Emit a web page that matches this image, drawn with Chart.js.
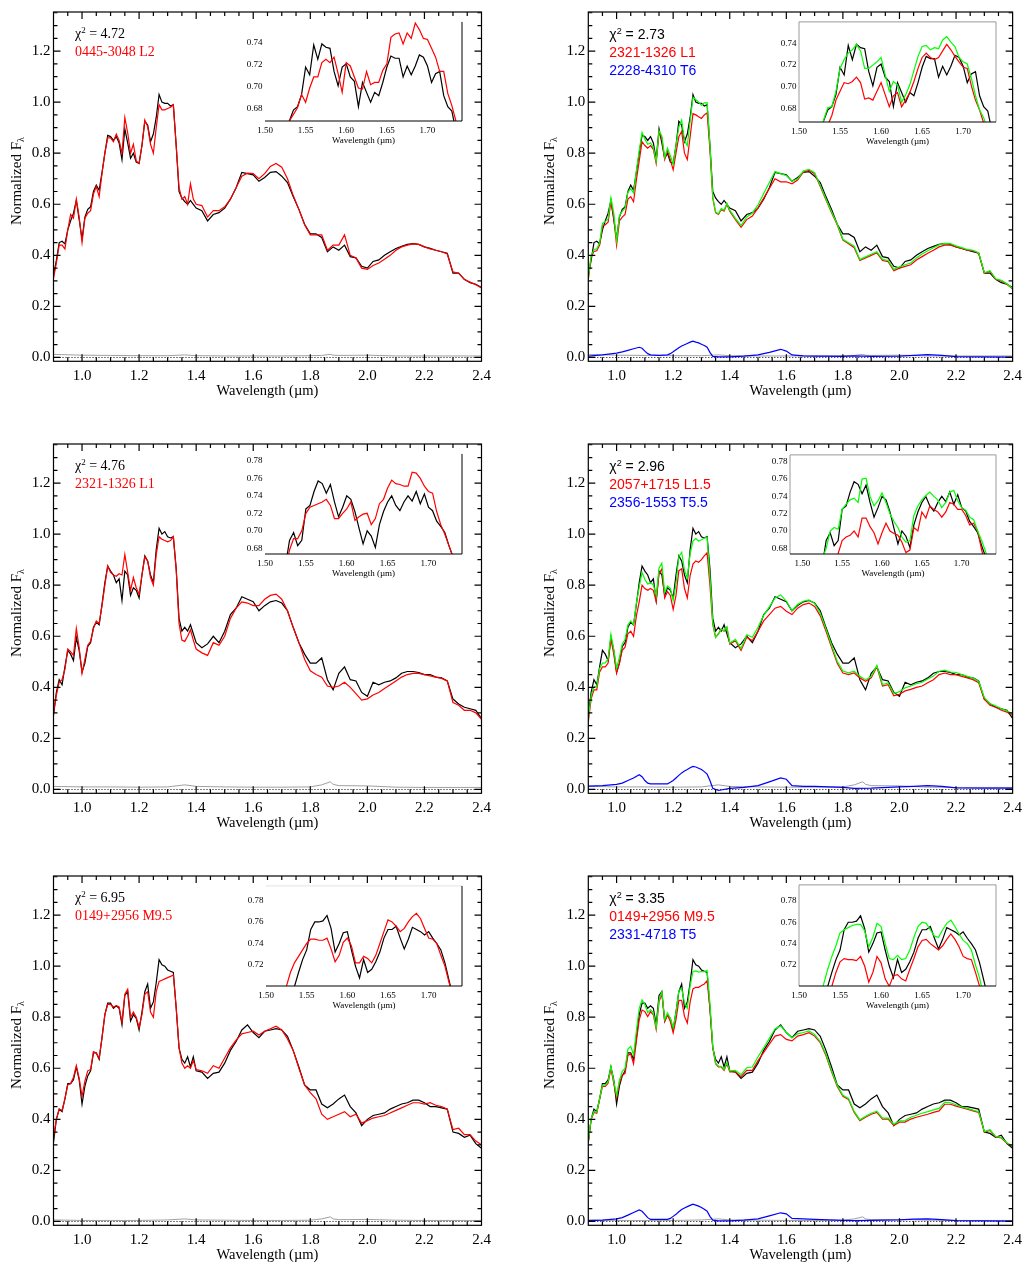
<!DOCTYPE html>
<html>
<head>
<meta charset="utf-8">
<script src="https://cdn.jsdelivr.net/npm/chart.js@4.4.1/dist/chart.umd.min.js"></script>
<style>
  body { margin: 0; background: #fff; width: 1028px; height: 1266px; position: relative; overflow: hidden; }
  canvas { position: absolute; }
  .note { position: absolute; white-space: nowrap; font-size: 14px; line-height: 14px; }
  .serif { font-family: "Liberation Serif", serif; }
  .sans { font-family: "Liberation Sans", sans-serif; }
  .note sup { font-size: 9px; vertical-align: 5px; line-height: 0; }
  .ytitle { position: absolute; width: 200px; height: 20px; line-height: 20px; text-align: center;
            transform: rotate(-90deg); font: 15px "Liberation Serif", serif; white-space: nowrap; }
  .ytitle sub { font-size: 10px; vertical-align: -3px; line-height: 0; }
</style>
</head>
<body>
<script>
// wavelength grid of the main panels (micron)
const wave = [
  0.90,0.91,0.92,0.93,0.94,0.95,0.96,0.97,0.98,0.99,
  1.00,1.01,1.02,1.03,1.04,1.05,1.06,1.07,1.08,1.09,
  1.10,1.11,1.12,1.13,1.14,1.15,1.16,1.17,1.18,1.19,
  1.20,1.21,1.22,1.23,1.24,1.25,1.26,1.27,1.28,1.29,
  1.30,1.31,1.32,1.33,1.34,1.35,1.36,1.37,1.38,1.39,
  1.40,1.42,1.44,1.46,1.48,1.50,1.52,1.54,1.56,1.58,
  1.60,1.62,1.64,1.66,1.68,1.70,1.72,1.74,1.76,1.78,
  1.80,1.82,1.84,1.86,1.88,1.90,1.92,1.94,1.96,1.98,
  2.00,2.02,2.04,2.06,2.08,2.10,2.12,2.14,2.16,2.18,
  2.20,2.22,2.24,2.26,2.28,2.30,2.32,2.34,2.36,2.38,
  2.40];

// row 1: observed spectrum, single fit (a), binary fit primary (b), composite (b)
const black1 = [
  0.32,0.38,0.45,0.455,0.445,0.50,0.535,0.565,0.615,0.54,
  0.465,0.55,0.58,0.59,0.65,0.675,0.655,0.725,0.80,0.87,
  0.865,0.85,0.865,0.84,0.775,0.895,0.84,0.78,0.80,0.765,
  0.76,0.83,0.925,0.91,0.845,0.875,0.94,1.03,1.0,0.995,
  0.995,0.985,0.99,0.83,0.65,0.625,0.61,0.60,0.615,0.60,
  0.585,0.575,0.535,0.56,0.567,0.585,0.62,0.665,0.725,0.72,
  0.715,0.69,0.705,0.725,0.728,0.71,0.685,0.63,0.58,0.522,
  0.484,0.484,0.47,0.414,0.433,0.42,0.44,0.395,0.39,0.357,
  0.35,0.376,0.382,0.40,0.414,0.427,0.435,0.443,0.446,0.443,
  0.433,0.427,0.42,0.414,0.408,0.33,0.33,0.306,0.293,0.287,
  0.274];
const red1a = [
  0.31,0.37,0.44,0.44,0.425,0.50,0.56,0.545,0.62,0.55,
  0.45,0.545,0.565,0.575,0.64,0.67,0.63,0.72,0.80,0.86,
  0.86,0.845,0.875,0.85,0.80,0.94,0.88,0.80,0.835,0.77,
  0.76,0.83,0.93,0.905,0.835,0.80,0.90,0.99,0.97,0.97,
  0.975,0.98,0.99,0.83,0.665,0.62,0.63,0.60,0.68,0.62,
  0.60,0.595,0.55,0.575,0.575,0.59,0.62,0.665,0.71,0.722,
  0.72,0.70,0.72,0.748,0.76,0.745,0.70,0.635,0.58,0.52,
  0.48,0.48,0.48,0.42,0.44,0.44,0.48,0.40,0.39,0.35,
  0.345,0.36,0.37,0.385,0.40,0.42,0.433,0.44,0.445,0.443,
  0.433,0.425,0.42,0.414,0.405,0.335,0.33,0.305,0.295,0.285,
  0.272];
const red1b = [
  0.305,0.395,0.415,0.418,0.44,0.515,0.52,0.53,0.61,0.55,
  0.44,0.535,0.55,0.56,0.62,0.63,0.61,0.695,0.77,0.845,
  0.83,0.82,0.83,0.815,0.76,0.88,0.86,0.775,0.81,0.775,
  0.735,0.80,0.865,0.885,0.80,0.775,0.865,0.955,0.95,0.943,
  0.936,0.95,0.958,0.815,0.624,0.567,0.56,0.58,0.573,0.60,
  0.573,0.54,0.51,0.54,0.554,0.586,0.624,0.662,0.70,0.688,
  0.688,0.68,0.695,0.726,0.733,0.72,0.67,0.618,0.567,0.52,
  0.46,0.445,0.43,0.38,0.39,0.40,0.41,0.38,0.375,0.34,
  0.35,0.357,0.363,0.382,0.395,0.408,0.42,0.433,0.44,0.44,
  0.433,0.427,0.42,0.418,0.408,0.33,0.338,0.306,0.30,0.287,
  0.268];
const green1b = [
  0.31,0.40,0.422,0.426,0.449,0.525,0.532,0.543,0.625,0.566,
  0.457,0.555,0.572,0.585,0.648,0.661,0.644,0.732,0.81,0.881,
  0.855,0.835,0.84,0.823,0.768,0.888,0.868,0.783,0.82,0.79,
  0.757,0.83,0.903,0.93,0.85,0.83,0.925,1.019,1.01,1.0,
  0.988,0.997,0.998,0.835,0.628,0.57,0.563,0.583,0.577,0.604,
  0.577,0.545,0.517,0.55,0.566,0.598,0.642,0.685,0.728,0.72,
  0.713,0.69,0.70,0.73,0.737,0.724,0.673,0.621,0.57,0.523,
  0.463,0.449,0.436,0.384,0.394,0.404,0.414,0.384,0.38,0.345,
  0.355,0.363,0.37,0.39,0.405,0.418,0.43,0.441,0.447,0.446,
  0.437,0.43,0.423,0.42,0.41,0.332,0.34,0.308,0.302,0.289,
  0.27];

// row 2
const black2 = [
  0.29,0.38,0.43,0.41,0.48,0.545,0.53,0.505,0.595,0.545,
  0.46,0.495,0.56,0.575,0.635,0.655,0.645,0.725,0.81,0.875,
  0.855,0.84,0.81,0.825,0.74,0.855,0.84,0.76,0.79,0.78,
  0.75,0.84,0.915,0.895,0.84,0.81,0.94,1.023,1.0,1.01,
  0.99,0.985,0.99,0.865,0.67,0.62,0.635,0.62,0.645,0.61,
  0.575,0.555,0.57,0.60,0.575,0.62,0.685,0.71,0.755,0.745,
  0.735,0.70,0.72,0.735,0.74,0.73,0.70,0.635,0.575,0.53,
  0.495,0.495,0.515,0.43,0.39,0.455,0.48,0.43,0.425,0.38,
  0.365,0.42,0.41,0.42,0.425,0.437,0.455,0.462,0.462,0.458,
  0.45,0.45,0.44,0.437,0.425,0.354,0.335,0.322,0.316,0.31,
  0.278];
const red2a = [
  0.30,0.37,0.42,0.43,0.47,0.55,0.54,0.525,0.63,0.555,
  0.455,0.51,0.565,0.58,0.63,0.66,0.65,0.72,0.80,0.875,
  0.85,0.84,0.835,0.845,0.84,0.92,0.85,0.78,0.83,0.79,
  0.765,0.84,0.91,0.895,0.83,0.80,0.92,0.99,0.98,0.975,
  0.97,0.975,0.99,0.86,0.65,0.585,0.58,0.60,0.625,0.585,
  0.55,0.535,0.525,0.575,0.565,0.60,0.67,0.71,0.735,0.73,
  0.72,0.72,0.745,0.76,0.765,0.745,0.70,0.635,0.575,0.51,
  0.465,0.45,0.44,0.405,0.40,0.405,0.42,0.40,0.375,0.35,
  0.355,0.37,0.38,0.395,0.41,0.425,0.44,0.45,0.455,0.455,
  0.45,0.445,0.44,0.435,0.425,0.34,0.33,0.31,0.31,0.30,
  0.275];
const red2b = [
  0.265,0.355,0.39,0.39,0.46,0.48,0.48,0.495,0.59,0.53,
  0.455,0.495,0.545,0.557,0.61,0.62,0.60,0.68,0.735,0.80,
  0.787,0.78,0.787,0.78,0.735,0.845,0.864,0.75,0.775,0.76,
  0.705,0.76,0.857,0.864,0.787,0.75,0.838,0.883,0.895,0.89,
  0.90,0.915,0.927,0.80,0.647,0.596,0.61,0.628,0.62,0.634,
  0.57,0.583,0.545,0.596,0.583,0.62,0.66,0.685,0.71,0.717,
  0.698,0.685,0.71,0.724,0.73,0.717,0.68,0.62,0.557,0.494,
  0.456,0.45,0.456,0.437,0.424,0.437,0.48,0.405,0.41,0.367,
  0.373,0.386,0.392,0.40,0.405,0.418,0.43,0.45,0.456,0.45,
  0.45,0.443,0.437,0.43,0.418,0.354,0.33,0.322,0.31,0.303,
  0.29];
const green2b = [
  0.278,0.368,0.403,0.403,0.474,0.495,0.496,0.512,0.608,0.549,
  0.475,0.517,0.57,0.587,0.645,0.66,0.645,0.73,0.793,0.85,
  0.822,0.805,0.809,0.802,0.757,0.867,0.886,0.772,0.797,0.788,
  0.74,0.805,0.912,0.929,0.859,0.828,0.923,0.973,0.983,0.973,
  0.978,0.985,0.987,0.835,0.652,0.596,0.607,0.628,0.622,0.637,
  0.574,0.588,0.552,0.606,0.596,0.635,0.682,0.715,0.75,0.762,
  0.738,0.70,0.725,0.737,0.742,0.729,0.69,0.63,0.566,0.502,
  0.464,0.457,0.463,0.443,0.43,0.442,0.486,0.411,0.417,0.376,
  0.383,0.398,0.405,0.414,0.42,0.433,0.444,0.463,0.467,0.46,
  0.458,0.45,0.443,0.436,0.424,0.36,0.336,0.328,0.316,0.308,
  0.295];

// row 3
const black3 = [
  0.31,0.40,0.44,0.43,0.48,0.54,0.54,0.555,0.605,0.555,
  0.46,0.53,0.57,0.59,0.66,0.66,0.635,0.72,0.81,0.855,
  0.855,0.835,0.845,0.835,0.77,0.885,0.90,0.785,0.81,0.795,
  0.75,0.82,0.90,0.93,0.835,0.86,0.935,1.025,1.005,1.0,
  0.985,0.98,0.975,0.835,0.68,0.635,0.62,0.645,0.605,0.645,
  0.59,0.585,0.56,0.58,0.585,0.62,0.67,0.705,0.75,0.77,
  0.74,0.72,0.745,0.75,0.755,0.75,0.725,0.67,0.605,0.535,
  0.515,0.515,0.46,0.445,0.46,0.48,0.495,0.45,0.425,0.375,
  0.40,0.415,0.42,0.425,0.44,0.45,0.46,0.465,0.475,0.475,
  0.465,0.45,0.45,0.445,0.44,0.35,0.345,0.33,0.338,0.305,
  0.287];
const red3a = [
  0.33,0.40,0.44,0.435,0.48,0.535,0.54,0.565,0.61,0.56,
  0.49,0.55,0.59,0.595,0.665,0.66,0.64,0.72,0.81,0.85,
  0.85,0.84,0.845,0.84,0.78,0.89,0.91,0.80,0.82,0.80,
  0.76,0.81,0.89,0.90,0.82,0.80,0.90,0.94,0.945,0.95,
  0.955,0.96,0.965,0.84,0.68,0.62,0.60,0.61,0.60,0.63,
  0.595,0.59,0.58,0.61,0.60,0.64,0.68,0.71,0.735,0.74,
  0.745,0.73,0.745,0.755,0.765,0.75,0.715,0.67,0.60,0.535,
  0.505,0.48,0.42,0.40,0.41,0.42,0.43,0.41,0.42,0.385,
  0.395,0.405,0.41,0.415,0.425,0.435,0.445,0.455,0.465,0.465,
  0.46,0.465,0.455,0.45,0.44,0.36,0.365,0.34,0.34,0.315,
  0.30];
const red3b = [
  0.312,0.40,0.427,0.424,0.478,0.529,0.529,0.541,0.60,0.541,
  0.484,0.541,0.573,0.58,0.65,0.656,0.618,0.707,0.79,0.828,
  0.822,0.803,0.822,0.809,0.752,0.86,0.892,0.783,0.809,0.783,
  0.739,0.79,0.866,0.866,0.803,0.777,0.86,0.911,0.917,0.917,
  0.924,0.93,0.943,0.834,0.68,0.618,0.605,0.605,0.592,0.618,
  0.586,0.586,0.567,0.592,0.592,0.63,0.662,0.694,0.726,0.732,
  0.713,0.707,0.726,0.732,0.739,0.726,0.70,0.65,0.586,0.529,
  0.49,0.478,0.427,0.395,0.408,0.42,0.427,0.401,0.401,0.376,
  0.389,0.389,0.401,0.408,0.414,0.42,0.427,0.433,0.459,0.459,
  0.452,0.446,0.44,0.433,0.427,0.35,0.357,0.331,0.327,0.306,
  0.293];
const green3b = [
  0.315,0.403,0.431,0.428,0.482,0.534,0.535,0.548,0.608,0.55,
  0.494,0.553,0.588,0.60,0.675,0.686,0.653,0.747,0.835,0.868,
  0.85,0.818,0.83,0.817,0.76,0.868,0.90,0.791,0.817,0.795,
  0.759,0.818,0.904,0.913,0.856,0.835,0.923,0.979,0.981,0.977,
  0.979,0.978,0.983,0.854,0.685,0.62,0.608,0.608,0.596,0.622,
  0.59,0.592,0.575,0.602,0.605,0.645,0.68,0.717,0.754,0.766,
  0.74,0.72,0.735,0.74,0.746,0.732,0.705,0.655,0.59,0.533,
  0.494,0.482,0.431,0.398,0.412,0.424,0.432,0.405,0.405,0.381,
  0.394,0.395,0.408,0.416,0.424,0.43,0.437,0.443,0.467,0.465,
  0.457,0.449,0.443,0.436,0.43,0.352,0.359,0.333,0.329,0.308,
  0.295];

// secondary (T dwarf) components of the binary fits
const blueWave = [
  0.90,0.95,1.00,1.02,1.04,1.06,1.08,1.09,1.10,1.11,
  1.12,1.15,1.18,1.19,1.20,1.21,1.22,1.23,1.24,1.25,
  1.26,1.27,1.28,1.29,1.30,1.31,1.32,1.33,1.34,1.36,
  1.40,1.45,1.50,1.54,1.58,1.60,1.62,1.66,1.70,1.80,
  1.84,1.90,2.00,2.05,2.10,2.15,2.20,2.30,2.40];
const blue1 = [
  0.005,0.010,0.017,0.022,0.028,0.034,0.040,0.036,0.025,0.015,
  0.010,0.008,0.010,0.015,0.022,0.030,0.038,0.045,0.050,0.055,
  0.060,0.064,0.060,0.057,0.052,0.047,0.040,0.020,0.004,0.002,
  0.002,0.005,0.010,0.020,0.032,0.025,0.010,0.006,0.005,0.004,
  0.006,0.004,0.005,0.008,0.011,0.008,0.003,0.002,0.001];
const blue2 = [
  0.013,0.015,0.020,0.025,0.035,0.045,0.058,0.050,0.035,0.025,
  0.022,0.022,0.022,0.028,0.035,0.045,0.055,0.065,0.072,0.078,
  0.085,0.090,0.088,0.083,0.078,0.070,0.060,0.035,0.005,-0.004,
  0.004,0.008,0.015,0.030,0.045,0.040,0.015,0.012,0.012,0.008,
  0.004,0.005,0.010,0.012,0.015,0.012,0.006,0.005,0.005];
const blue3 = [
  0.003,0.005,0.010,0.015,0.025,0.035,0.045,0.040,0.028,0.015,
  0.008,0.008,0.008,0.012,0.020,0.028,0.038,0.047,0.053,0.058,
  0.063,0.068,0.064,0.060,0.055,0.048,0.040,0.020,0.005,0.002,
  0.002,0.005,0.010,0.022,0.034,0.030,0.012,0.010,0.008,0.004,
  0.003,0.004,0.006,0.009,0.010,0.007,0.003,0.002,0.001];

// noise spectra (grey)
const noiseWave = [0.90,1.00,1.10,1.20,1.30,1.36,1.40,1.50,1.60,1.70,1.80,1.84,1.87,1.88,1.90,2.00,2.10,2.20,2.30,2.40];
const noise1 = [0.012,0.009,0.008,0.007,0.007,0.010,0.007,0.006,0.006,0.006,0.007,0.008,0.012,0.009,0.008,0.009,0.006,0.006,0.006,0.006];
const noise2 = [0.012,0.010,0.010,0.009,0.010,0.018,0.012,0.010,0.009,0.009,0.010,0.018,0.030,0.020,0.015,0.014,0.009,0.008,0.008,0.008];
const noise3 = [0.006,0.004,0.004,0.004,0.006,0.010,0.006,0.005,0.004,0.004,0.005,0.010,0.018,0.010,0.007,0.008,0.005,0.004,0.004,0.004];

// H-band close-ups
const insetWave = [
  1.525,1.530,1.535,1.540,1.545,1.550,1.555,1.560,1.565,1.570,
  1.575,1.580,1.585,1.590,1.595,1.600,1.605,1.610,1.615,1.620,
  1.625,1.630,1.635,1.640,1.645,1.650,1.655,1.660,1.665,1.670,
  1.675,1.680,1.685,1.690,1.695,1.700,1.705,1.710,1.715,1.720,
  1.725,1.730,1.735];
const inBlack1 = [
  0.655,0.669,0.679,0.682,0.693,0.718,0.711,0.738,0.725,0.739,
  0.736,0.735,0.714,0.701,0.718,0.721,0.709,0.705,0.682,0.704,
  0.695,0.686,0.695,0.692,0.704,0.718,0.728,0.726,0.726,0.709,
  0.719,0.711,0.719,0.729,0.727,0.719,0.704,0.712,0.714,0.692,
  0.682,0.678,0.660];
const inRed1a = [
  0.655,0.669,0.675,0.681,0.693,0.686,0.699,0.709,0.709,0.722,
  0.725,0.722,0.727,0.712,0.695,0.722,0.719,0.709,0.699,0.698,
  0.714,0.702,0.704,0.704,0.715,0.721,0.745,0.748,0.749,0.739,
  0.749,0.744,0.758,0.752,0.744,0.743,0.735,0.727,0.714,0.714,
  0.694,0.683,0.669];
const inRed1b = [
  0.640,0.655,0.665,0.674,0.688,0.696,0.704,0.703,0.705,0.709,
  0.704,0.689,0.690,0.688,0.696,0.704,0.693,0.682,0.692,0.695,
  0.682,0.688,0.695,0.705,0.717,0.727,0.731,0.727,0.725,0.727,
  0.733,0.739,0.734,0.728,0.723,0.718,0.717,0.701,0.688,0.679,
  0.667,0.655,0.645];
const inGreen1b = [
  0.655,0.670,0.681,0.682,0.696,0.717,0.725,0.731,0.734,0.739,
  0.733,0.717,0.717,0.720,0.723,0.727,0.711,0.696,0.705,0.702,
  0.686,0.693,0.702,0.715,0.728,0.737,0.738,0.734,0.736,0.735,
  0.743,0.746,0.741,0.737,0.727,0.723,0.721,0.708,0.692,0.679,
  0.672,0.660,0.648];
const inBlack2 = [
  0.660,0.689,0.698,0.683,0.689,0.725,0.729,0.745,0.757,0.754,
  0.743,0.753,0.733,0.716,0.727,0.740,0.736,0.722,0.703,0.685,
  0.700,0.694,0.681,0.707,0.722,0.733,0.740,0.729,0.723,0.733,
  0.740,0.734,0.745,0.731,0.742,0.727,0.723,0.711,0.705,0.698,
  0.683,0.670,0.655];
const inRed2a = [
  0.655,0.678,0.691,0.691,0.700,0.720,0.727,0.729,0.731,0.733,
  0.736,0.729,0.714,0.714,0.720,0.725,0.733,0.712,0.716,0.719,
  0.720,0.707,0.714,0.731,0.736,0.749,0.758,0.754,0.753,0.751,
  0.751,0.767,0.766,0.760,0.751,0.745,0.743,0.722,0.707,0.696,
  0.683,0.670,0.655];
const inRed2b = [
  0.630,0.640,0.650,0.665,0.674,0.689,0.693,0.695,0.700,0.693,
  0.715,0.715,0.705,0.698,0.685,0.698,0.709,0.700,0.697,0.695,
  0.687,0.675,0.678,0.704,0.700,0.722,0.715,0.729,0.725,0.722,
  0.716,0.722,0.733,0.731,0.725,0.725,0.718,0.707,0.709,0.700,
  0.678,0.660,0.645];
const inGreen2b = [
  0.668,0.680,0.700,0.704,0.702,0.725,0.731,0.736,0.738,0.733,
  0.760,0.761,0.740,0.729,0.735,0.744,0.733,0.720,0.711,0.704,
  0.693,0.687,0.689,0.718,0.729,0.736,0.741,0.745,0.740,0.736,
  0.727,0.733,0.745,0.747,0.735,0.727,0.724,0.716,0.713,0.700,
  0.689,0.676,0.660];
const inBlack3 = [
  0.675,0.688,0.700,0.713,0.725,0.734,0.753,0.760,0.760,0.761,
  0.766,0.754,0.732,0.740,0.750,0.751,0.734,0.719,0.708,0.725,
  0.713,0.716,0.723,0.732,0.745,0.753,0.753,0.756,0.745,0.735,
  0.744,0.755,0.753,0.751,0.748,0.751,0.745,0.740,0.734,0.722,
  0.706,0.690,0.675];
const inRed3a = [
  0.700,0.713,0.722,0.728,0.734,0.740,0.744,0.744,0.743,0.743,
  0.745,0.735,0.723,0.729,0.741,0.745,0.738,0.722,0.722,0.728,
  0.726,0.722,0.729,0.740,0.751,0.762,0.760,0.756,0.751,0.754,
  0.760,0.765,0.768,0.763,0.754,0.745,0.744,0.740,0.729,0.719,
  0.704,0.690,0.675];
const inRed3b = [
  0.670,0.680,0.690,0.700,0.713,0.723,0.726,0.725,0.725,0.724,
  0.728,0.719,0.704,0.713,0.728,0.722,0.707,0.700,0.710,0.711,
  0.707,0.705,0.716,0.726,0.737,0.743,0.744,0.740,0.737,0.734,
  0.738,0.744,0.749,0.744,0.737,0.728,0.726,0.725,0.713,0.700,
  0.685,0.670,0.655];
const inGreen3b = [
  0.690,0.702,0.716,0.728,0.738,0.750,0.753,0.755,0.757,0.758,
  0.758,0.752,0.737,0.746,0.759,0.756,0.740,0.726,0.725,0.729,
  0.725,0.726,0.734,0.746,0.756,0.760,0.759,0.753,0.747,0.746,
  0.753,0.759,0.762,0.756,0.749,0.743,0.740,0.734,0.720,0.708,
  0.690,0.675,0.660];

// tick labels
const xTicks = [1.0, 1.2, 1.4, 1.6, 1.8, 2.0, 2.2, 2.4];
const yTicks = [0.0, 0.2, 0.4, 0.6, 0.8, 1.0, 1.2];
const inXTicks = [1.50, 1.55, 1.60, 1.65, 1.70];
const inYTicks1 = [0.68, 0.70, 0.72, 0.74];
const inYTicks2 = [0.68, 0.70, 0.72, 0.74, 0.76, 0.78];
const inYTicks3 = [0.72, 0.74, 0.76, 0.78];

// annotations
const chiLeft = ['4.72', '4.76', '6.95'];
const fitLeft = ['0445-3048 L2', '2321-1326 L1', '0149+2956 M9.5'];
const chiRight = ['2.73', '2.96', '3.35'];
const primRight = ['2321-1326 L1', '2057+1715 L1.5', '0149+2956 M9.5'];
const secRight = ['2228-4310 T6', '2356-1553 T5.5', '2331-4718 T5'];

const rows = [
  { black: black1, redA: red1a, redB: red1b, green: green1b, blue: blue1, noise: noise1,
    inBlack: inBlack1, inRedA: inRed1a, inRedB: inRed1b, inGreen: inGreen1b, inY: inYTicks1 },
  { black: black2, redA: red2a, redB: red2b, green: green2b, blue: blue2, noise: noise2,
    inBlack: inBlack2, inRedA: inRed2a, inRedB: inRed2b, inGreen: inGreen2b, inY: inYTicks2 },
  { black: black3, redA: red3a, redB: red3b, green: green3b, blue: blue3, noise: noise3,
    inBlack: inBlack3, inRedA: inRed3a, inRedB: inRed3b, inGreen: inGreen3b, inY: inYTicks3 }
];

// page layout
const rowTop = [3.3, 435.1, 866.9];
const insetBoxes = [
  [{ L: 265, R: 461.5, T: 17.3, B: 121.7, x0: 1.50, x1: 1.7425, y0: 0.669, y1: 0.759 },
   { L: 799.3, R: 996, T: 17.3, B: 122.3, x0: 1.50, x1: 1.74, y0: 0.668, y1: 0.7595 }],
  [{ L: 265, R: 461.7, T: 449.3, B: 554, x0: 1.50, x1: 1.741, y0: 0.6734, y1: 0.788 },
   { L: 790, R: 996, T: 450, B: 554, x0: 1.4846, x1: 1.743, y0: 0.6734, y1: 0.788 }],
  [{ L: 265.7, R: 461.7, T: 881, B: 986, x0: 1.50, x1: 1.741, y0: 0.7005, y1: 0.7935, faintTop: true },
   { L: 799.3, R: 996, T: 880.3, B: 986, x0: 1.50, x1: 1.74, y0: 0.7003, y1: 0.795 }]
];

const SERIF = '"Liberation Serif", serif';
const pts = (xs, ys) => xs.map((x, i) => ({ x: x, y: ys[i] }));
const line = (data, color, order, width) => ({
  data: data, borderColor: color, borderWidth: width || 1.2, order: order,
  pointRadius: 0, tension: 0, fill: false
});

// IDL-style box with inward major/minor ticks on all four sides
const idlFrame = {
  id: 'idlFrame',
  afterDatasetsDraw(chart) {
    const { ctx, chartArea: a, scales: { x, y } } = chart;
    ctx.save();
    ctx.strokeStyle = '#000';
    ctx.lineWidth = 1.2;
    ctx.strokeRect(a.left, a.top, a.right - a.left, a.bottom - a.top);
    ctx.beginPath();
    for (let k = 1; k < 30; k++) {
      const px = x.getPixelForValue(0.9 + k * 0.05);
      const len = (k % 4 === 2) ? 7 : 4;
      ctx.moveTo(px, a.bottom); ctx.lineTo(px, a.bottom - len);
      ctx.moveTo(px, a.top); ctx.lineTo(px, a.top + len);
    }
    for (let k = 0; k <= 27; k++) {
      const py = y.getPixelForValue(k * 0.05);
      const len = (k % 4 === 0) ? 7 : 4;
      ctx.moveTo(a.left, py); ctx.lineTo(a.left + len, py);
      ctx.moveTo(a.right, py); ctx.lineTo(a.right - len, py);
    }
    ctx.stroke();
    ctx.restore();
  }
};

const insetFrame = {
  id: 'insetFrame',
  afterDatasetsDraw(chart, args, opts) {
    const { ctx, chartArea: a } = chart;
    ctx.save();
    ctx.lineWidth = 1;
    ctx.beginPath();
    if (opts.box) {
      ctx.strokeStyle = '#9a9a9a';
      ctx.moveTo(a.left, a.bottom); ctx.lineTo(a.left, a.top);
      ctx.lineTo(a.right, a.top); ctx.lineTo(a.right, a.bottom);
      ctx.stroke();
    } else {
      if (opts.faintTop) {
        ctx.strokeStyle = '#e4e4e4';
        ctx.moveTo(a.left, a.top); ctx.lineTo(a.right, a.top);
        ctx.stroke();
        ctx.beginPath();
      }
      ctx.strokeStyle = '#000';
      ctx.moveTo(a.right, a.top); ctx.lineTo(a.right, a.bottom);
      ctx.stroke();
    }
    ctx.beginPath();
    ctx.strokeStyle = '#000';
    ctx.moveTo(a.left, a.bottom); ctx.lineTo(a.right, a.bottom);
    ctx.stroke();
    ctx.restore();
  }
};

function addCanvas(left, top, w, h) {
  const c = document.createElement('canvas');
  c.width = Math.round(w); c.height = Math.round(h);
  c.style.left = left + 'px'; c.style.top = top + 'px';
  c.style.width = Math.round(w) + 'px'; c.style.height = Math.round(h) + 'px';
  document.body.appendChild(c);
  return c;
}

function addNote(html, left, cy, cls, color) {
  const d = document.createElement('div');
  d.className = 'note ' + cls;
  d.innerHTML = html;
  d.style.left = left + 'px';
  d.style.top = (cy - 7) + 'px';
  d.style.color = color;
  document.body.appendChild(d);
}

function addYTitle(cx, cy) {
  const d = document.createElement('div');
  d.className = 'ytitle';
  d.innerHTML = 'Normalized F<sub>&lambda;</sub>';
  d.style.left = (cx - 100) + 'px';
  d.style.top = (cy - 10) + 'px';
  document.body.appendChild(d);
}

function mainChart(canvas, datasets, yWidth, padRight) {
  return new Chart(canvas.getContext('2d'), {
    type: 'line',
    data: { datasets: datasets },
    options: {
      responsive: false, animation: false,
      layout: { padding: { top: 3, right: padRight, left: 0, bottom: 0 } },
      plugins: { legend: { display: false }, tooltip: { enabled: false } },
      scales: {
        x: {
          type: 'linear', min: 0.9, max: 2.4,
          grid: { display: false, drawTicks: false }, border: { display: false },
          afterBuildTicks: s => { s.ticks = xTicks.map(v => ({ value: v })); },
          afterFit: s => { s.height = 38.7; },
          ticks: { padding: 6, color: '#000', font: { family: SERIF, size: 15 },
                   maxRotation: 0, autoSkip: false, callback: v => v.toFixed(1) },
          title: { display: true, text: 'Wavelength (\u00b5m)', color: '#000',
                   font: { family: SERIF, size: 14.5 }, padding: { top: 0, bottom: 0 } }
        },
        y: {
          min: -0.015, max: 1.353,
          grid: { display: false, drawTicks: false }, border: { display: false },
          afterBuildTicks: s => { s.ticks = yTicks.map(v => ({ value: v })); },
          afterFit: s => { s.width = yWidth; },
          ticks: { padding: 3, color: '#000', font: { family: SERIF, size: 15 },
                   autoSkip: false, callback: v => v.toFixed(1) }
        }
      }
    },
    plugins: [idlFrame]
  });
}

function insetChart(box, datasets, yTickVals, boxed) {
  const w = box.R - box.L + 33, h = box.B - box.T + 29;
  const c = addCanvas(box.L - 30, box.T - 3, w, h);
  return new Chart(c.getContext('2d'), {
    type: 'line',
    data: { datasets: datasets },
    options: {
      responsive: false, animation: false,
      layout: { padding: { top: 3, right: 3, left: 0, bottom: 0 } },
      plugins: { legend: { display: false }, tooltip: { enabled: false },
                 insetFrame: { box: boxed, faintTop: !!box.faintTop } },
      scales: {
        x: {
          type: 'linear', min: box.x0, max: box.x1,
          grid: { display: false, drawTicks: false }, border: { display: false },
          afterBuildTicks: s => { s.ticks = inXTicks.map(v => ({ value: v })); },
          afterFit: s => { s.height = 26; },
          ticks: { padding: 4, color: '#000', font: { family: SERIF, size: 9 },
                   maxRotation: 0, autoSkip: false, callback: v => v.toFixed(2) },
          title: { display: true, text: 'Wavelength (\u00b5m)', color: '#000',
                   font: { family: SERIF, size: 9 }, padding: { top: 0, bottom: 1.3 } }
        },
        y: {
          min: box.y0, max: box.y1,
          grid: { display: false, drawTicks: false }, border: { display: false },
          afterBuildTicks: s => { s.ticks = yTickVals.map(v => ({ value: v })); },
          afterFit: s => { s.width = 30; },
          ticks: { padding: 2.5, color: '#000', font: { family: SERIF, size: 9 },
                   autoSkip: false, callback: v => v.toFixed(2) }
        }
      }
    },
    plugins: [insetFrame]
  });
}

const zeroLine = [{ x: 0.9, y: 0 }, { x: 2.4, y: 0 }];

rows.forEach((row, r) => {
  const T = rowTop[r];

  // left column: single-template fit
  const cl = addCanvas(0, T - 3, 500, 400);
  mainChart(cl, [
    line(pts(wave, row.redA), '#ff0000', 0),
    line(pts(wave, row.black), '#000000', 1),
    Object.assign(line(zeroLine, '#000000', 3, 1), { borderDash: [1, 2] }),
    line(pts(noiseWave, row.noise), '#a0a0a0', 4, 1)
  ], 53.5, 18.5);

  // right column: binary fit
  const cr = addCanvas(535, T - 3, 493, 400);
  mainChart(cr, [
    line(pts(wave, row.green), '#00ff00', 0),
    line(pts(wave, row.redB), '#ff0000', 1),
    line(pts(wave, row.black), '#000000', 2),
    line(pts(blueWave, row.blue), '#0000ff', 3),
    Object.assign(line(zeroLine, '#000000', 4, 1), { borderDash: [1, 2] }),
    line(pts(noiseWave, row.noise), '#a0a0a0', 5, 1)
  ], 53.3, 12);

  // H-band insets
  insetChart(insetBoxes[r][0], [
    line(pts(insetWave, row.inRedA), '#ff0000', 0),
    line(pts(insetWave, row.inBlack), '#000000', 1)
  ], row.inY, false);
  insetChart(insetBoxes[r][1], [
    line(pts(insetWave, row.inGreen), '#00ff00', 0),
    line(pts(insetWave, row.inRedB), '#ff0000', 1),
    line(pts(insetWave, row.inBlack), '#000000', 2)
  ], row.inY, true);

  // labels
  addYTitle(17.5, T + 178);
  addYTitle(551, T + 178);
  addNote('&chi;<sup>2</sup> = ' + chiLeft[r], 75, T + 31, 'serif', '#000');
  addNote(fitLeft[r], 75, T + 48.6, 'serif', '#ff0000');
  addNote('&chi;<sup>2</sup> = ' + chiRight[r], 609.3, T + 31, 'sans', '#000');
  addNote(primRight[r], 609.3, T + 48.6, 'sans', '#ff0000');
  addNote(secRight[r], 609.3, T + 66.8, 'sans', '#0000ff');
});
</script>
</body>
</html>
